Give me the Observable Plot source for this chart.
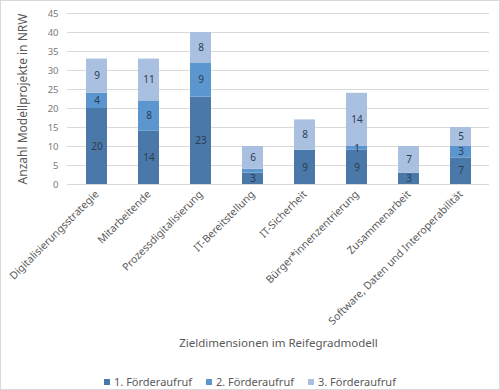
<!DOCTYPE html>
<html><head><meta charset="utf-8">
<script src="https://cdn.jsdelivr.net/npm/d3@7"></script>
<script src="https://cdn.jsdelivr.net/npm/@observablehq/plot@0.6"></script>
<style>
body{margin:0;background:#fff;}
#wrap{width:498px;height:388px;border:1px solid #d9d9d9;position:relative;overflow:hidden;font-family:"Noto Sans",sans-serif;}
#legend{position:absolute;left:0;top:373px;width:498px;display:flex;justify-content:center;gap:14px;font-size:11px;color:#595959;padding-left:0;box-sizing:border-box}
#legend span.sw{display:inline-block;width:6px;height:6px;margin-right:4px;vertical-align:1px}
</style></head>
<body><div id="wrap"></div>
<script>
const categories = ["Digitalisierungsstrategie","Mitarbeitende","Prozessdigitalisierung","IT-Bereitstellung","IT-Sicherheit","Bürger*innenzentrierung","Zusammenarbeit","Software, Daten und Interoperabilität"];
const seriesNames = ["1. Förderaufruf","2. Förderaufruf","3. Förderaufruf"];
const call1 = [20,14,23,3,9,9,3,7];
const call2 = [4,8,9,1,0,1,0,3];
const call3 = [9,11,8,6,8,14,7,5];
// segment labels as shown in the chart ("" = not shown)
const labels1 = ["20","14","23","3","9","9","3","7"];
const labels2 = ["4","8","9","","","1","","3"];
const labels3 = ["9","11","8","6","8","14","7","5"];
const yTicks = [0,5,10,15,20,25,30,35,40,45];
const colors = ["#4a78a8","#5b96cf","#a9c0e0"];
const yLabel = "Anzahl Modellprojekte in NRW";
const xLabel = "Zieldimensionen im Reifegradmodell";

const rows = [];
[[call1,labels1],[call2,labels2],[call3,labels3]].forEach(([arr, lab], s) => arr.forEach((v, i) => rows.push({cat: categories[i], series: seriesNames[s], value: v, label: lab[i]})));

const chart = Plot.plot({
  width: 498, height: 366,
  marginLeft: 66, marginRight: 10, marginTop: 12, marginBottom: 183,
  style: {fontFamily: "Noto Sans, sans-serif", background: "transparent"},
  x: {domain: categories, paddingInner: 0.6, paddingOuter: 0.3, label: null},
  y: {domain: [0,45], ticks: yTicks, label: null},
  color: {domain: seriesNames, range: colors},
  marks: [
    Plot.gridY(yTicks, {stroke: "#d9d9d9", strokeOpacity: 1, strokeWidth: 1}),
    Plot.barY(rows, {x: "cat", y: "value", fill: "series", order: seriesNames}),
    Plot.text(rows, Plot.stackY({x: "cat", y: "value", z: "series", order: seriesNames, text: "label", fill: "#2e3d52", fontSize: 10})),
    Plot.axisY({ticks: yTicks, tickSize: 0, tickPadding: 9, fontSize: 9.5, color: "#7a7a7a", label: null}),
    Plot.axisX({tickSize: 0, tickPadding: 8, tickRotate: -45, fontSize: 10.5, color: "#595959", label: null}),
    Plot.text([yLabel], {frameAnchor: "left", textAnchor: "middle", rotate: -90, dx: -44, fontSize: 12, fill: "#595959"}),
    Plot.text([xLabel], {frameAnchor: "bottom", dy: 162, fontSize: 11.5, fill: "#595959"})
  ]
});
document.getElementById("wrap").appendChild(chart);
const leg = document.createElement("div");
leg.id = "legend";
seriesNames.forEach((n, i) => {
  const it = document.createElement("div");
  it.innerHTML = `<span class="sw" style="background:${colors[i]}"></span>${n}`;
  leg.appendChild(it);
});
document.getElementById("wrap").appendChild(leg);
</script></body></html>
